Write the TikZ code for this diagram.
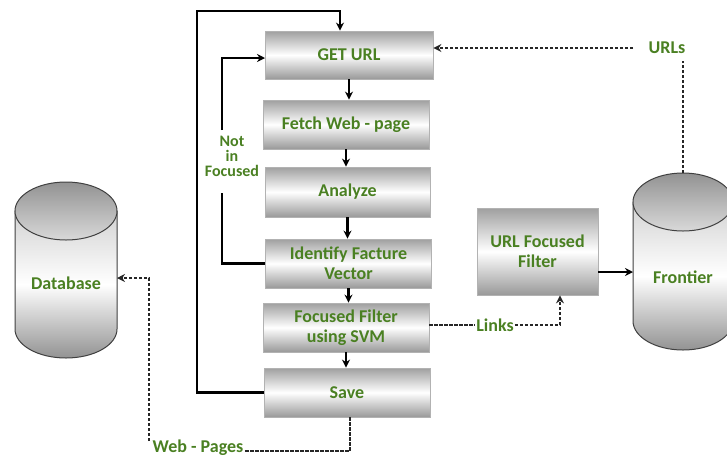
\documentclass[tikz,border=0pt]{standalone}
\usepackage{fontspec}
\setmainfont{Carlito}
\usetikzlibrary{arrows.meta,calc}
\definecolor{tgreen}{RGB}{74,128,34}
\begin{document}
\begin{tikzpicture}[x=1pt,y=1pt,
  txt/.style={text=tgreen, font=\bfseries\fontsize{18}{20}\selectfont},
  box/.style={txt, draw=gray!60, line width=0.8pt, top color=gray!75, bottom color=gray!80, middle color=white,
    minimum width=166pt, minimum height=49pt, align=center, inner sep=2pt},
  lbl/.style={txt, inner sep=1pt},
  flow/.style={draw=black, line width=2.2pt, -{Stealth[length=8pt,width=8pt]}},
  solidline/.style={draw=black, line width=2.2pt},
  dashline/.style={draw=black!85, line width=2pt, dash pattern=on 3.5pt off 1.5pt},
  dasharrow/.style={dashline, -{Stealth[length=8pt,width=8pt]}},
  cyl/.style={draw=gray!50!black, line width=1pt}
]
\useasboundingbox (0,0) rectangle (727,-459);

% cylinders
\draw[cyl, top color=gray!35, bottom color=gray!85, middle color=white]
  (15,-211) -- (15,-329) arc[start angle=180, end angle=360, x radius=51, y radius=29] -- (117,-211) -- cycle;
\draw[cyl, top color=gray!85, bottom color=gray!30] (66,-211) ellipse[x radius=51, y radius=29];
\node[lbl] (db) at (66,-283) {Database};

\draw[cyl, top color=gray!35, bottom color=gray!85, middle color=white]
  (633,-202) -- (633,-321) arc[start angle=180, end angle=360, x radius=50, y radius=29] -- (733,-202) -- cycle;
\draw[cyl, top color=gray!85, bottom color=gray!30] (683,-202) ellipse[x radius=50, y radius=29];
\node[lbl] (fr) at (683,-277) {Frontier};

% boxes
\node[box, minimum width=168pt, minimum height=48pt] (get) at (349,-55) {GET URL};
\node[box] (fetch) at (346,-124.5) {Fetch Web - page};
\node[box, minimum width=165pt, minimum height=50pt] (analyze) at (347.5,-192) {Analyze};
\node[box] (ident) at (348.5,-263.5) {Identify Facture\\Vector};
\node[box] (svm) at (346,-327.5) {Focused Filter\\using SVM};
\node[box] (save) at (347,-392.5) {Save};
\node[box, minimum width=121pt, minimum height=87pt] (filter) at (537.5,-251.5) {URL Focused\\Filter};

% vertical flow
\draw[flow] (get.south) -- (get.south |- fetch.north);
\draw[flow] (fetch.south) -- (fetch.south |- analyze.north);
\draw[flow] (analyze.south) -- (analyze.south |- ident.north);
\draw[flow] (ident.south) -- (ident.south |- svm.north);
\draw[flow] (svm.south) -- (svm.south |- save.north);

% outer loop
\coordinate (lt) at (340,-11);
\coordinate (ll) at (197,-11);
\draw[flow] (save.west) -- (save.west -| ll) -- (ll) -- (lt) -- (lt |- get.north);

% inner loop
\node[lbl, align=center, font=\bfseries\fontsize{16}{15}\selectfont, inner sep=0pt] (nif) at (232,-156) {Not\\in\\Focused};
\coordinate (ia) at (222,-193);
\coordinate (ib) at (222,-130);
\coordinate (ic) at (222,-58);
\coordinate (getin) at (265,-58);
\draw[solidline] (ident.west) -- (ident.west -| ia) -- (ia);
\draw[flow] (ib) -- (ic) -- (getin);

% URLs
\node[lbl] (urls) at (667,-48) {URLs};
\coordinate (ftop) at (683,-173);
\coordinate (ubot) at (683,-61);
\coordinate (uend) at (633,-48);
\draw[dashline] (ftop) -- (ubot);
\draw[dasharrow] (uend) -- (get.east |- uend);

% Links
\node[lbl] (links) at (495,-325) {Links};
\coordinate (lk) at (560,-325);
\draw[dashline] (svm.east |- links.west) -- (links.west);
\draw[dasharrow] (links.east) -- (lk) -- (lk |- filter.south);

% filter -> frontier
\coordinate (fin) at (633,-272);
\draw[flow, line width=1.8pt] (filter.east |- fin) -- (fin);

% Web pages
\node[lbl] (web) at (198,-448) {Web - Pages};
\coordinate (wp) at (350,-451);
\coordinate (dbin) at (117,-278);
\coordinate (wv) at (149,-441);
\draw[dashline] (save.south -| wp) -- (wp) -- (web.east |- wp);
\draw[dasharrow] (wv) -- (wv |- dbin) -- (dbin);
\end{tikzpicture}
\end{document}
